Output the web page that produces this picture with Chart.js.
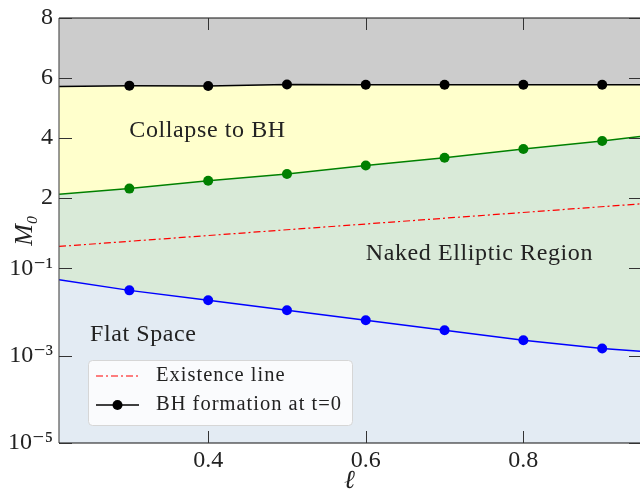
<!DOCTYPE html>
<html>
<head>
<meta charset="utf-8">
<script src="https://cdn.jsdelivr.net/npm/chart.js@4/dist/chart.umd.min.js"></script>
<style>
  body { margin: 0; background: #fff; }
  canvas { display: block; }
</style>
</head>
<body>
<canvas id="canvas" width="640" height="494"></canvas>
<script>
var ell = [0.2107, 0.3, 0.4, 0.5, 0.6, 0.7, 0.8, 0.9, 0.948];
var bhLine = [5.71, 5.74, 5.73, 5.78, 5.77, 5.77, 5.77, 5.77, 5.77];
var greenLine = [2.11, 2.30, 2.56, 2.79, 3.07, 3.33, 3.62, 3.89, 4.04];
var blueLine = [0.0552, 0.0314, 0.0186, 0.0110, 0.00648, 0.00383, 0.00226, 0.00146, 0.00127];
var existEll = [0.2107, 0.948];
var existLine = [0.253, 1.53];

var xTicks = [0.4, 0.6, 0.8];
var yTicks = [1e-5, 1e-3, 1e-1, 2, 4, 6, 8];
var yTickLabels = ['10⁻⁵', '10⁻³', '10⁻¹', '2', '4', '6', '8'];

var notes = [
    {text: 'Collapse to BH', x: 0.3, y: 4.23},
    {text: 'Naked Elliptic Region', x: 0.6, y: 0.188},
    {text: 'Flat Space', x: 0.25, y: 0.00295}
];

// axis is log at the bottom, linear at the top
function toAxis(v) {
    if (v <= 0.1) return Math.log10(v) + 5;
    if (v < 2) return 4 + Math.log10(v / 0.1) / Math.log10(20) * 1.623;
    return 5.623 + (v - 2) * 0.6857;
}

function pts(xs, ys) {
    return xs.map(function (x, i) { return {x: x, y: toAxis(ys[i])}; });
}

var markers = ell.map(function (x, i) { return (i == 0 || i == ell.length - 1) ? 0 : 5; });

var serif = '"Liberation Serif", "DejaVu Serif", serif';

var framePlugin = {
    id: 'frame',
    beforeDraw: function (chart) {
        var ctx = chart.ctx, a = chart.chartArea;
        ctx.save();
        ctx.fillStyle = '#fff';
        ctx.fillRect(0, 0, chart.width, chart.height);
        ctx.fillStyle = 'rgb(227,235,243)';
        ctx.fillRect(a.left, a.top, a.right - a.left, a.bottom - a.top);
        ctx.restore();
    },
    afterDatasetsDraw: function (chart) {
        var ctx = chart.ctx, a = chart.chartArea;
        var xs = chart.scales.x, ys = chart.scales.y;
        ctx.save();

        // annotations
        ctx.fillStyle = '#222';
        ctx.font = '24px ' + serif;
        ctx.letterSpacing = '0.6px';
        ctx.textBaseline = 'middle';
        ctx.textAlign = 'left';
        notes.forEach(function (n) {
            ctx.fillText(n.text, xs.getPixelForValue(n.x), ys.getPixelForValue(toAxis(n.y)));
        });
        ctx.letterSpacing = '0px';

        // spines
        ctx.lineWidth = 1.2;
        ctx.strokeStyle = '#555';
        ctx.beginPath();
        ctx.moveTo(a.left, a.top);
        ctx.lineTo(a.left, a.bottom);
        ctx.stroke();
        ctx.strokeStyle = '#111';
        ctx.beginPath();
        ctx.moveTo(a.left, a.bottom);
        ctx.lineTo(a.right + 2, a.bottom);
        ctx.moveTo(a.left, a.top);
        ctx.lineTo(a.right + 2, a.top);
        ctx.stroke();

        // inward ticks
        ctx.lineWidth = 1;
        ctx.strokeStyle = '#333';
        ctx.beginPath();
        yTicks.forEach(function (v) {
            var y = Math.round(ys.getPixelForValue(toAxis(v))) + 0.5;
            ctx.moveTo(a.left, y); ctx.lineTo(a.left + 13, y);
            ctx.moveTo(a.right + 1, y); ctx.lineTo(a.right - 11, y);
        });
        xTicks.forEach(function (v) {
            var x = Math.round(xs.getPixelForValue(v)) + 0.5;
            ctx.moveTo(x, a.bottom); ctx.lineTo(x, a.bottom - 12);
            ctx.moveTo(x, a.top); ctx.lineTo(x, a.top + 12);
        });
        ctx.stroke();

        // legend box
        var bx = 88, by = 360, bw = 264, bh = 65;
        ctx.fillStyle = 'rgba(255,255,255,0.8)';
        ctx.strokeStyle = '#d6d6d6';
        ctx.lineWidth = 1;
        ctx.beginPath();
        ctx.roundRect(bx + 0.5, by + 0.5, bw, bh, 4);
        ctx.fill();
        ctx.stroke();

        var items = [chart.data.datasets[3], chart.data.datasets[0]];
        items.forEach(function (ds, i) {
            var ly = by + 16 + i * 29;
            ctx.strokeStyle = ds.borderColor;
            ctx.lineWidth = ds.borderWidth;
            ctx.setLineDash(ds.borderDash || []);
            ctx.beginPath();
            ctx.moveTo(bx + 8, ly);
            ctx.lineTo(bx + 51, ly);
            ctx.stroke();
            ctx.setLineDash([]);
            if (ds.legendMarker) {
                ctx.fillStyle = ds.borderColor;
                ctx.beginPath();
                ctx.arc(bx + 29.5, ly, 5, 0, Math.PI * 2);
                ctx.fill();
            }
            ctx.fillStyle = '#222';
            ctx.font = '20.5px ' + serif;
            ctx.letterSpacing = '1px';
            ctx.textBaseline = 'middle';
            ctx.fillText(ds.label, bx + 68, ly);
            ctx.letterSpacing = '0px';
        });
        ctx.restore();
    }
};

var ctx = document.getElementById('canvas').getContext('2d');
window.myChart = new Chart(ctx, {
    type: 'line',
    data: {
        datasets: [{
            label: 'BH formation at t=0',
            data: pts(ell, bhLine),
            borderColor: '#000',
            backgroundColor: 'rgb(204,204,204)',
            borderWidth: 1.5,
            pointRadius: markers,
            pointBackgroundColor: '#000',
            pointBorderWidth: 0,
            fill: 'end',
            legendMarker: true
        }, {
            label: 'green',
            data: pts(ell, greenLine),
            borderColor: 'rgb(0,128,0)',
            backgroundColor: 'rgb(255,255,204)',
            borderWidth: 1.5,
            pointRadius: markers,
            pointBackgroundColor: 'rgb(0,128,0)',
            pointBorderWidth: 0,
            fill: 0
        }, {
            label: 'blue',
            data: pts(ell, blueLine),
            borderColor: 'rgb(0,0,255)',
            backgroundColor: 'rgb(217,234,216)',
            borderWidth: 1.5,
            pointRadius: markers,
            pointBackgroundColor: 'rgb(0,0,255)',
            pointBorderWidth: 0,
            fill: 1
        }, {
            label: 'Existence line',
            data: pts(existEll, existLine),
            borderColor: 'rgb(255,0,0)',
            borderWidth: 1.2,
            borderDash: [7, 3, 2, 3],
            pointRadius: 0,
            fill: false
        }]
    },
    options: {
        responsive: false,
        animation: false,
        layout: { padding: { top: 17, right: 0, left: 0, bottom: 0 } },
        plugins: {
            legend: { display: false },
            tooltip: { enabled: false },
            filler: { drawTime: 'beforeDatasetsDraw' }
        },
        scales: {
            x: {
                type: 'linear',
                min: ell[0],
                max: ell[ell.length - 1],
                grid: { display: false, drawTicks: false },
                border: { display: false },
                afterBuildTicks: function (s) {
                    s.ticks = xTicks.map(function (v) { return {value: v}; });
                },
                afterFit: function (s) { s.height = 51; },
                ticks: {
                    padding: 3,
                    color: '#222',
                    font: { family: serif, size: 24 },
                    callback: function (v) { return v.toFixed(1); }
                },
                title: {
                    display: true,
                    text: 'ℓ',
                    color: '#222',
                    padding: 0,
                    font: { family: serif, size: 26, style: 'italic', lineHeight: 1 }
                }
            },
            y: {
                type: 'linear',
                min: 0,
                max: toAxis(8),
                grid: { display: false, drawTicks: false },
                border: { display: false },
                afterBuildTicks: function (s) {
                    s.ticks = yTicks.map(function (v) { return {value: toAxis(v)}; });
                },
                afterFit: function (s) { s.width = 59; },
                ticks: {
                    padding: 6,
                    color: '#222',
                    font: { family: serif, size: 24, lineHeight: 1 },
                    callback: function (v, i) { return yTickLabels[i]; }
                },
                title: {
                    display: true,
                    text: 'M₀',
                    color: '#222',
                    padding: { top: 10, bottom: 0 },
                    font: { family: serif, size: 26, style: 'italic' }
                }
            }
        }
    },
    plugins: [framePlugin]
});
</script>
</body>
</html>
